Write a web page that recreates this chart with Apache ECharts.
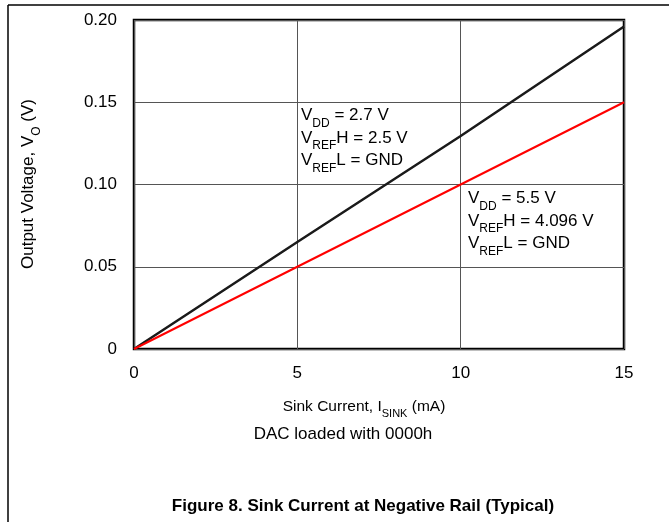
<!DOCTYPE html>
<html><head><meta charset="utf-8">
<script src="https://cdn.jsdelivr.net/npm/echarts@6/dist/echarts.min.js"></script>
<style>html,body{margin:0;padding:0;background:#fff}#c{width:669px;height:522px}</style>
</head><body><div id="c"></div>
<script>
var sinkCurrent = [0, 5, 10, 15];
var vout27 = [0, 0.065, 0.1295, 0.196];
var vout55 = [0, 0.05, 0.10, 0.15];
var yTicks = [0, 0.05, 0.10, 0.15, 0.20];
var xTicks = [0, 5, 10, 15];

var F = 'Liberation Sans, Arial, sans-serif';
var chart = echarts.init(document.getElementById('c'));
var rich = {
  n: {fontSize: 17, fontFamily: F, color: '#000', lineHeight: 22.5, verticalAlign: 'top'},
  s: {fontSize: 12, fontFamily: F, color: '#000', lineHeight: 22.5, verticalAlign: 'bottom'}
};
var richT = {
  a: {fontSize: 15.5, fontFamily: F, color: '#000', lineHeight: 21, verticalAlign: 'top'},
  b: {fontSize: 11, fontFamily: F, color: '#000', lineHeight: 21, verticalAlign: 'bottom'}
};
var richY = {
  a: {fontSize: 17, fontFamily: F, color: '#000', lineHeight: 23, verticalAlign: 'top'},
  b: {fontSize: 12, fontFamily: F, color: '#000', lineHeight: 23, verticalAlign: 'bottom'}
};
function pairs(xs, ys){ return xs.map(function(x,i){return [x, ys[i]];}); }
chart.setOption({
  animation: false,
  grid: {left: 134, right: 45, top: 20, bottom: 173, show: true, borderColor: '#000', borderWidth: 2.5, containLabel: false},
  xAxis: {type: 'value', min: 0, max: 15, interval: 5,
    axisLine: {show: false}, axisTick: {show: false},
    axisLabel: {fontSize: 17, fontFamily: F, color: '#000', margin: 16},
    splitLine: {show: true, lineStyle: {color: '#555', width: 1}}},
  yAxis: {type: 'value', min: 0, max: 0.2, interval: 0.05,
    axisLine: {show: false}, axisTick: {show: false},
    axisLabel: {fontSize: 17, fontFamily: F, color: '#000', margin: 17,
      formatter: function(v){ return v === 0 ? '0' : v.toFixed(2); }},
    splitLine: {show: true, lineStyle: {color: '#555', width: 1}}},
  series: [
    {type: 'line', data: pairs(sinkCurrent, vout27), showSymbol: false, lineStyle: {color: '#1a1a1a', width: 2.5}, z: 3},
    {type: 'line', data: pairs(sinkCurrent, vout55), showSymbol: false, lineStyle: {color: '#ff0000', width: 2}, z: 4}
  ],
  graphic: [
    {type: 'line', shape: {x1: 8, y1: 5, x2: 669, y2: 5}, style: {stroke: '#000', lineWidth: 1.5}},
    {type: 'line', shape: {x1: 8, y1: 5, x2: 8, y2: 522}, style: {stroke: '#000', lineWidth: 1.5}},
    {type: 'text', left: 301, top: 107, style: {
      text: '{n|V}{s|DD}{n| = 2.7 V}\n{n|V}{s|REF}{n|H = 2.5 V}\n{n|V}{s|REF}{n|L = GND}', rich: rich}},
    {type: 'text', left: 468, top: 190, style: {
      text: '{n|V}{s|DD}{n| = 5.5 V}\n{n|V}{s|REF}{n|H = 4.096 V}\n{n|V}{s|REF}{n|L = GND}', rich: rich}},
    {type: 'text', x: 364, y: 409, style: {
      text: '{a|Sink Current, I}{b|SINK}{a| (mA)}', align: 'center', verticalAlign: 'middle', rich: richT}},
    {type: 'text', x: 31, y: 184, rotation: Math.PI/2, style: {
      text: '{a|Output Voltage, V}{b|O}{a| (V)}', align: 'center', verticalAlign: 'middle', rich: richY}},
    {type: 'text', x: 343, y: 434, style: {text: 'DAC loaded with 0000h', align: 'center', verticalAlign: 'middle',
      fontSize: 17, fontFamily: F, fill: '#000'}},
    {type: 'text', x: 363, y: 506, style: {text: 'Figure 8. Sink Current at Negative Rail (Typical)', align: 'center', verticalAlign: 'middle',
      fontSize: 17, fontWeight: 'bold', fontFamily: F, fill: '#000'}}
  ]
});
</script></body></html>
